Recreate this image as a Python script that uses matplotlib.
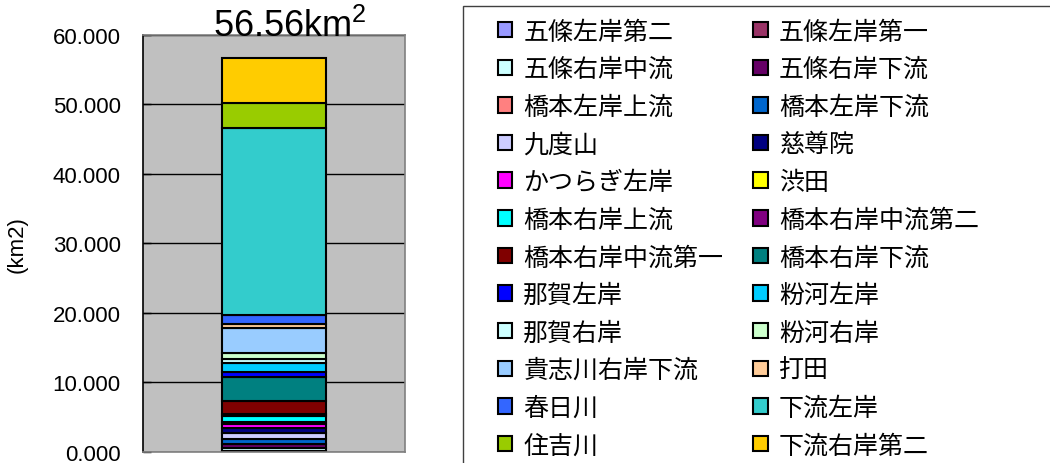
import matplotlib
matplotlib.use('Agg')
import matplotlib.pyplot as plt
from matplotlib.patches import Rectangle
from matplotlib.ticker import FormatStrFormatter

plt.rcParams['font.family'] = ['Liberation Sans', 'Noto Sans CJK JP']
plt.rcParams['mathtext.fontset'] = 'custom'
plt.rcParams['mathtext.rm'] = 'Liberation Sans'
plt.rcParams['mathtext.it'] = 'Liberation Sans'

# 流域ごとの面積 (km2)、下から順に積み上げ
nombres = ['五條左岸第二', '五條左岸第一', '五條右岸中流', '五條右岸下流',
           '橋本左岸上流', '橋本左岸下流', '九度山', '慈尊院',
           'かつらぎ左岸', '渋田', '橋本右岸上流', '橋本右岸中流第二',
           '橋本右岸中流第一', '橋本右岸下流', '那賀左岸', '粉河左岸',
           '那賀右岸', '粉河右岸', '貴志川右岸下流', '打田',
           '春日川', '下流左岸', '住吉川', '下流右岸第二']
areas = [0.05, 0.05, 0.47, 0.57,
         0.05, 0.67, 0.86, 0.69,
         0.60, 0.25, 0.90, 0.35,
         1.77, 3.55, 0.72, 1.18,
         0.69, 0.83, 3.50, 0.65,
         1.24, 26.90, 3.55, 6.47]
colores = ['#9999FF', '#993366', '#CCFFFF', '#660066',
           '#FF8080', '#0066CC', '#CCCCFF', '#000080',
           '#FF00FF', '#FFFF00', '#00FFFF', '#800080',
           '#800000', '#008080', '#0000FF', '#00CCFF',
           '#CCFFFF', '#CCFFCC', '#99CCFF', '#FFCC99',
           '#3366FF', '#33CCCC', '#99CC00', '#FFCC00']
yticks = [0, 10, 20, 30, 40, 50, 60]

fig = plt.figure(figsize=(10.5, 4.64), dpi=100)
ax = fig.add_axes([143/1050, 1-453/464, 262/1050, (453-35.5)/464])
ax.set_facecolor('#C0C0C0')
ax.set_axisbelow(True)

handles = []
base = 0
for nom, a, c in zip(nombres, areas, colores):
    b = ax.bar(0, a, width=0.4, bottom=base, color=c, edgecolor='black', linewidth=1.5, label=nom)
    handles.append(b)
    base += a

ax.set_xlim(-0.5, 0.5)
ax.set_ylim(0, 60)
ax.set_yticks(yticks)
ax.yaxis.set_major_formatter(FormatStrFormatter('%.3f'))
ax.set_xticks([])
ax.yaxis.grid(True, color='black', linewidth=1)
ax.tick_params(axis='y', direction='in', length=6, width=1, labelsize=16, pad=16)
for s in ax.spines.values():
    s.set_color('#808080')
    s.set_linewidth(1.2)
ax.spines['left'].set_color('black')
ax.set_ylabel('(km2)', fontsize=16)
ax.yaxis.set_label_coords(-0.44, 0.5)

# titulo con el total
total = sum(areas)
fig.text(213/1050, 1-37/464, f'{total:.2f}km$^2$', fontsize=26, ha='left', va='baseline')

# leyenda (orden por filas)
orden = list(range(0, len(nombres), 2)) + list(range(1, len(nombres), 2))
leg = fig.legend([handles[i] for i in orden], [nombres[i] for i in orden],
                 ncol=2, loc='upper left', bbox_to_anchor=(485/1050, 1-7/464),
                 frameon=False, handlelength=0.58, handleheight=0.58,
                 handletextpad=0.45, labelspacing=0.465, columnspacing=1.2, borderpad=0,
                 prop={'family': ['Noto Sans CJK JP'], 'size': 18})
fig.patches.append(Rectangle((463/1050, -0.1), 0.7, 0.985+0.1, transform=fig.transFigure,
                             fill=False, edgecolor='#404040', linewidth=1))

fig.savefig('out.png', dpi=100)
